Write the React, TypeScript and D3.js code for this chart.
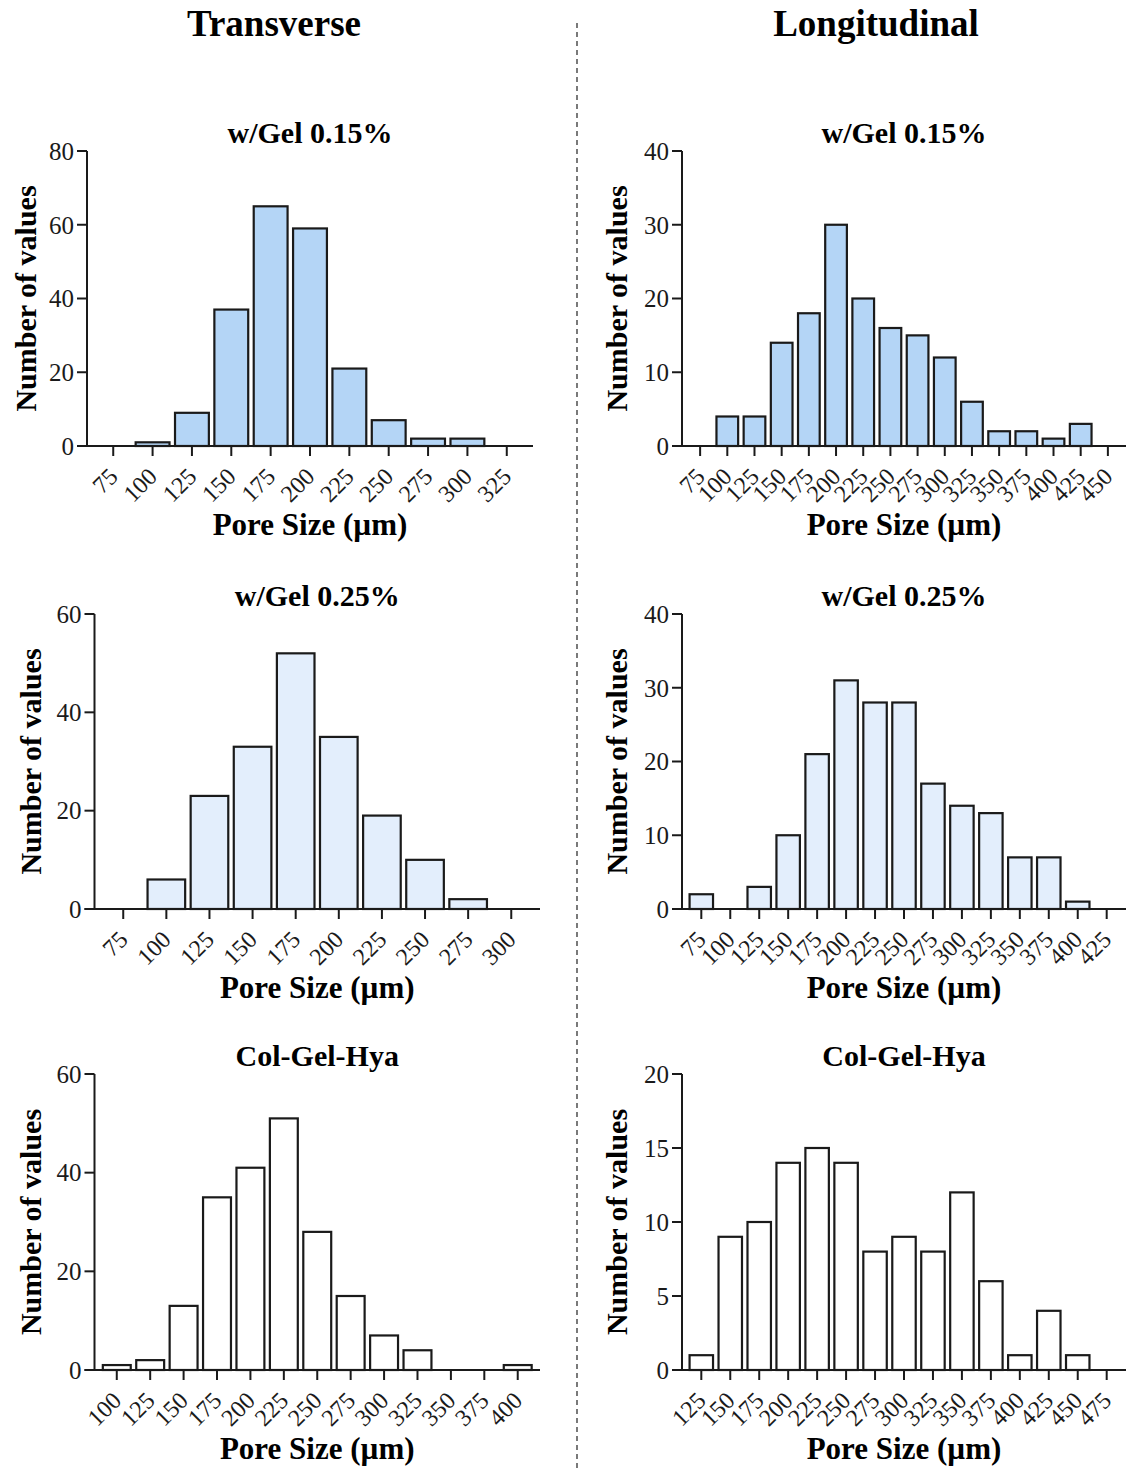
import React from "react";
import * as d3 from "d3";

const T1_BINS = [75, 100, 125, 150, 175, 200, 225, 250, 275, 300, 325];
const T1_COUNTS = [0, 1, 9, 37, 65, 59, 21, 7, 2, 2, 0];
const T1_YTICKS = [0, 20, 40, 60, 80];

const L1_BINS = [75, 100, 125, 150, 175, 200, 225, 250, 275, 300, 325, 350, 375, 400, 425, 450];
const L1_COUNTS = [0, 4, 4, 14, 18, 30, 20, 16, 15, 12, 6, 2, 2, 1, 3, 0];
const L1_YTICKS = [0, 10, 20, 30, 40];

const T2_BINS = [75, 100, 125, 150, 175, 200, 225, 250, 275, 300];
const T2_COUNTS = [0, 6, 23, 33, 52, 35, 19, 10, 2, 0];
const T2_YTICKS = [0, 20, 40, 60];

const L2_BINS = [75, 100, 125, 150, 175, 200, 225, 250, 275, 300, 325, 350, 375, 400, 425];
const L2_COUNTS = [2, 0, 3, 10, 21, 31, 28, 28, 17, 14, 13, 7, 7, 1, 0];
const L2_YTICKS = [0, 10, 20, 30, 40];

const T3_BINS = [100, 125, 150, 175, 200, 225, 250, 275, 300, 325, 350, 375, 400];
const T3_COUNTS = [1, 2, 13, 35, 41, 51, 28, 15, 7, 4, 0, 0, 1];
const T3_YTICKS = [0, 20, 40, 60];

const L3_BINS = [125, 150, 175, 200, 225, 250, 275, 300, 325, 350, 375, 400, 425, 450, 475];
const L3_COUNTS = [1, 9, 10, 14, 15, 14, 8, 9, 8, 12, 6, 1, 4, 1, 0];
const L3_YTICKS = [0, 5, 10, 15, 20];

const TITLE_1 = "w/Gel 0.15%";
const TITLE_2 = "w/Gel 0.25%";
const TITLE_3 = "Col-Gel-Hya";
const X_TITLE = "Pore Size (µm)";
const Y_TITLE = "Number of values";
const HEAD_LEFT = "Transverse";
const HEAD_RIGHT = "Longitudinal";

const BIN_WIDTH = 25;
const FONT = "'Liberation Serif', 'Times New Roman', Times, serif";
const INK = "#1a1a1a";

type PanelProps = {
  bins: number[];
  counts: number[];
  yTicks: number[];
  title: string;
  fill: string;
  x0: number;
  x1: number;
  yTop: number;
  y0: number;
  yTitleX: number;
};

function Panel({ bins, counts, yTicks, title, fill, x0, x1, yTop, y0, yTitleX }: PanelProps) {
  const pad = (BIN_WIDTH * 2) / 3;
  const x = d3
    .scaleLinear()
    .domain([bins[0] - pad, bins[bins.length - 1] + pad])
    .range([x0, x1]);
  const y = d3
    .scaleLinear()
    .domain([0, yTicks[yTicks.length - 1]])
    .range([y0, yTop]);
  const step = x(bins[0] + BIN_WIDTH) - x(bins[0]);
  const bw = step - 5.5;
  const cx = (x0 + x1) / 2;
  const cy = (yTop + y0) / 2;
  return (
    <g>
      {bins.map((b, i) =>
        counts[i] > 0 ? (
          <rect
            key={"b" + i}
            x={x(b) - bw / 2}
            y={y(counts[i])}
            width={bw}
            height={y0 - y(counts[i])}
            fill={fill}
            stroke={INK}
            strokeWidth={2.2}
          />
        ) : null
      )}
      <line x1={x0} x2={x0} y1={yTop} y2={y0} stroke={INK} strokeWidth={2} />
      <line x1={x0 - 10} x2={x1} y1={y0} y2={y0} stroke={INK} strokeWidth={2} />
      {yTicks.map((t) => (
        <g key={"y" + t}>
          <line x1={x0 - 10} x2={x0} y1={y(t)} y2={y(t)} stroke={INK} strokeWidth={2} />
          <text
            x={x0 - 13}
            y={y(t)}
            dy="0.35em"
            textAnchor="end"
            fontFamily={FONT}
            fontSize={25}
            fill={INK}
          >
            {t}
          </text>
        </g>
      ))}
      {bins.map((b) => (
        <g key={"x" + b}>
          <line x1={x(b)} x2={x(b)} y1={y0} y2={y0 + 10} stroke={INK} strokeWidth={2} />
          <text
            transform={`translate(${x(b) + 6},${y0 + 32}) rotate(-45)`}
            textAnchor="end"
            fontFamily={FONT}
            fontSize={24}
            fill={INK}
          >
            {b}
          </text>
        </g>
      ))}
      <text
        x={cx}
        y={yTop - 8}
        textAnchor="middle"
        fontFamily={FONT}
        fontWeight="bold"
        fontSize={30}
        fill="#000"
      >
        {title}
      </text>
      <text
        x={cx}
        y={y0 + 89}
        textAnchor="middle"
        fontFamily={FONT}
        fontWeight="bold"
        fontSize={31}
        fill="#000"
      >
        {X_TITLE}
      </text>
      <text
        transform={`translate(${yTitleX},${cy}) rotate(-90)`}
        textAnchor="middle"
        fontFamily={FONT}
        fontWeight="bold"
        fontSize={30}
        fill="#000"
      >
        {Y_TITLE}
      </text>
    </g>
  );
}

export default function App() {
  const fillA = "#b4d5f6";
  const fillB = "#e3eefc";
  const fillC = "#ffffff";
  return (
    <svg
      width={1127}
      height={1468}
      viewBox="0 0 1127 1468"
      style={{ position: "absolute", left: 0, top: 0, background: "#fff" }}
    >
      <rect x={0} y={0} width={1127} height={1468} fill="#fff" />
      <text x={274} y={36} textAnchor="middle" fontFamily={FONT} fontWeight="bold" fontSize={37} fill="#000">
        {HEAD_LEFT}
      </text>
      <text x={876} y={36} textAnchor="middle" fontFamily={FONT} fontWeight="bold" fontSize={37} fill="#000">
        {HEAD_RIGHT}
      </text>
      <line x1={577} x2={577} y1={23} y2={1468} stroke="#333" strokeWidth={1.3} strokeDasharray="5,4" />

      <Panel bins={T1_BINS} counts={T1_COUNTS} yTicks={T1_YTICKS} title={TITLE_1} fill={fillA}
        x0={87} x1={533} yTop={151} y0={446} yTitleX={36} />
      <Panel bins={L1_BINS} counts={L1_COUNTS} yTicks={L1_YTICKS} title={TITLE_1} fill={fillA}
        x0={682} x1={1126} yTop={151} y0={446} yTitleX={627} />
      <Panel bins={T2_BINS} counts={T2_COUNTS} yTicks={T2_YTICKS} title={TITLE_2} fill={fillB}
        x0={94.5} x1={540} yTop={614} y0={909} yTitleX={41} />
      <Panel bins={L2_BINS} counts={L2_COUNTS} yTicks={L2_YTICKS} title={TITLE_2} fill={fillB}
        x0={682} x1={1126} yTop={614} y0={909} yTitleX={627} />
      <Panel bins={T3_BINS} counts={T3_COUNTS} yTicks={T3_YTICKS} title={TITLE_3} fill={fillC}
        x0={94.5} x1={540} yTop={1074} y0={1370} yTitleX={41} />
      <Panel bins={L3_BINS} counts={L3_COUNTS} yTicks={L3_YTICKS} title={TITLE_3} fill={fillC}
        x0={682} x1={1126} yTop={1074} y0={1370} yTitleX={627} />
    </svg>
  );
}
